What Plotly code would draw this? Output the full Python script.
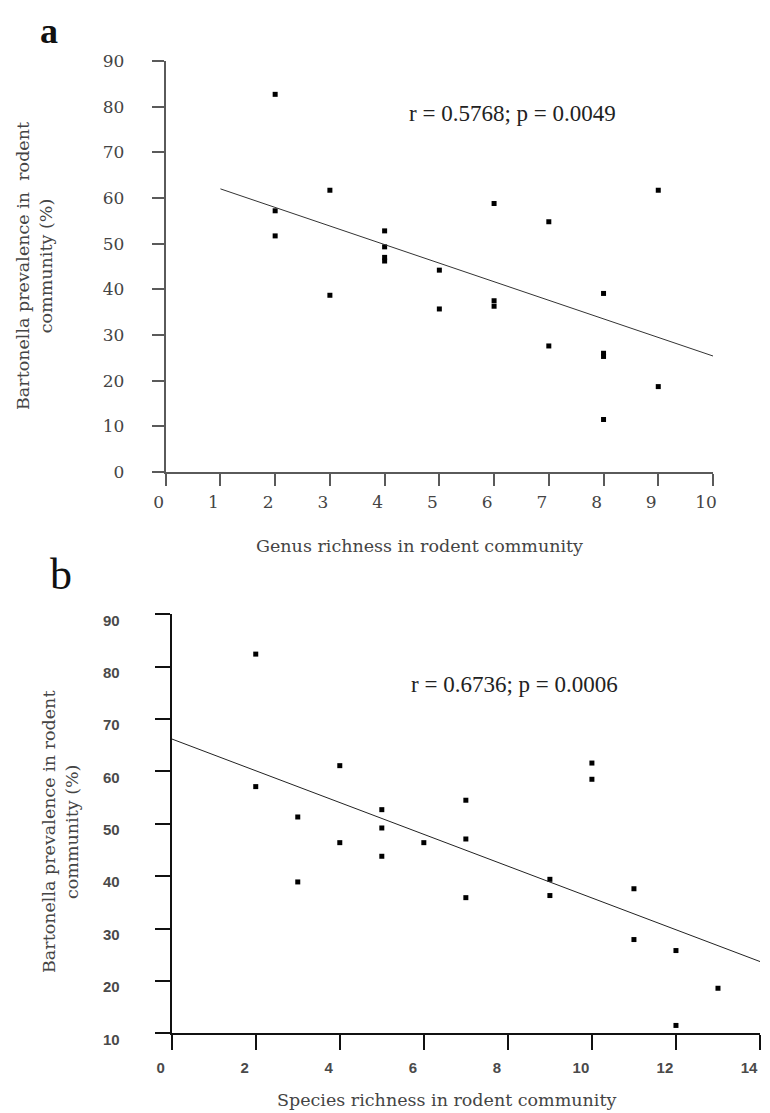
import plotly.graph_objects as go

# ---- Panel a data ----
a_x = [2, 2, 2, 3, 3, 4, 4, 4, 4, 5, 5, 6, 6, 6, 7, 7, 8, 8, 8, 8, 9, 9]
a_y = [82.7, 57.2, 51.7, 61.7, 38.7, 52.8, 49.3, 47.0, 46.2, 44.2, 35.7,
       58.8, 37.5, 36.3, 54.8, 27.6, 39.1, 26.0, 25.3, 11.5, 61.7, 18.7]
a_fit_x = [1, 10]
a_fit_y = [62.0, 25.4]
a_xticks = list(range(0, 11))
a_yticks = list(range(0, 91, 10))

# ---- Panel b data ----
b_x = [2, 2, 3, 3, 4, 4, 5, 5, 5, 6, 7, 7, 7, 9, 9, 10, 10, 11, 11, 12, 12, 13]
b_y = [82.4, 57.1, 51.3, 38.9, 61.1, 46.4, 52.7, 49.2, 43.8, 46.4, 54.5,
       47.1, 35.9, 39.4, 36.3, 61.6, 58.5, 37.6, 27.9, 25.8, 11.5, 18.6]
b_fit_x = [0, 14]
b_fit_y = [66.2, 23.7]
b_xticks = list(range(0, 15, 2))
b_yticks = list(range(10, 91, 10))

# page offset (body margin) compensation
OFF = 8
W, H = 770 - OFF, 1113 - OFF

def px(xp):
    return (xp - OFF) / W

def py(yp):
    return 1 - (yp - OFF) / H

fig = go.Figure()

mk = dict(symbol="square", size=5, color="black")
fig.add_trace(go.Scatter(x=a_x, y=a_y, mode="markers", marker=mk,
                         xaxis="x", yaxis="y", showlegend=False, cliponaxis=False))
fig.add_trace(go.Scatter(x=a_fit_x, y=a_fit_y, mode="lines",
                         line=dict(color="#333333", width=1),
                         xaxis="x", yaxis="y", showlegend=False))
fig.add_trace(go.Scatter(x=b_x, y=b_y, mode="markers", marker=mk,
                         xaxis="x2", yaxis="y2", showlegend=False, cliponaxis=False))
fig.add_trace(go.Scatter(x=b_fit_x, y=b_fit_y, mode="lines",
                         line=dict(color="#222222", width=1),
                         xaxis="x2", yaxis="y2", showlegend=False))

serif = "DejaVu Serif"
a_axis = dict(showline=True, linecolor="#5a5a5a", linewidth=2, ticks="outside",
              ticklen=12, tickwidth=2, tickcolor="#5a5a5a", showgrid=False,
              zeroline=False, automargin=False,
              tickfont=dict(family=serif, size=17, color="#444444"))
b_axis = dict(showline=True, linecolor="#111111", linewidth=2, ticks="outside",
              ticklen=15, tickwidth=2, tickcolor="#111111", showgrid=False,
              zeroline=False, automargin=False,
              tickfont=dict(family="Liberation Sans", size=15, color="#4a4a4a",
                            weight="bold"))

fig.update_layout(
    width=W, height=H,
    margin=dict(l=0, r=0, t=0, b=0),
    paper_bgcolor="white", plot_bgcolor="white",
    xaxis=dict(domain=[px(165.7), px(713)], range=[0, 10], tickvals=a_xticks,
               anchor="y", ticklabelshift=-7, ticklabelstandoff=2, **a_axis),
    yaxis=dict(domain=[py(472), py(61)], range=[0, 90], tickvals=a_yticks,
               anchor="x", ticklabelstandoff=24, **a_axis),
    xaxis2=dict(domain=[px(171.7), px(760)], range=[0, 14], tickvals=b_xticks,
                anchor="y2", ticklabelshift=-11, ticklabelstandoff=5, **b_axis),
    yaxis2=dict(domain=[py(1033.3), py(614.3)], range=[10, 90], tickvals=b_yticks,
                anchor="x2", ticklabelshift=6, ticklabelstandoff=32, **b_axis),
)

ann = []
ann.append(dict(text="<b>a</b>", x=px(49), y=py(31), xref="paper", yref="paper",
                showarrow=False, xanchor="center", yanchor="middle",
                font=dict(family="Liberation Serif", size=36, color="#111111")))
ann.append(dict(text="b", x=px(61), y=py(574), xref="paper", yref="paper",
                showarrow=False, xanchor="center", yanchor="middle",
                font=dict(family="Liberation Serif", size=44, color="#111111")))
ann.append(dict(text="r = 0.5768; p = 0.0049", x=px(512), y=py(114), xref="paper", yref="paper",
                showarrow=False, xanchor="center", yanchor="middle",
                font=dict(family="Liberation Serif", size=23, color="#222222")))
ann.append(dict(text="r = 0.6736; p = 0.0006", x=px(514), y=py(684), xref="paper", yref="paper",
                showarrow=False, xanchor="center", yanchor="middle",
                font=dict(family="Liberation Serif", size=23, color="#222222")))
ann.append(dict(text="Bartonella prevalence in  rodent<br>community (%)", x=px(34), y=py(266),
                xref="paper", yref="paper", showarrow=False, textangle=-90,
                xanchor="center", yanchor="middle",
                font=dict(family=serif, size=17.5, color="#444444")))
ann.append(dict(text="Bartonella prevalence in rodent<br>community (%)", x=px(60), y=py(832),
                xref="paper", yref="paper", showarrow=False, textangle=-90,
                xanchor="center", yanchor="middle",
                font=dict(family=serif, size=17.5, color="#444444")))
ann.append(dict(text="Genus richness in rodent community", x=px(419), y=py(546),
                xref="paper", yref="paper", showarrow=False,
                xanchor="center", yanchor="middle",
                font=dict(family=serif, size=17.5, color="#444444")))
ann.append(dict(text="Species richness in rodent community", x=px(446), y=py(1100),
                xref="paper", yref="paper", showarrow=False,
                xanchor="center", yanchor="middle",
                font=dict(family=serif, size=17.5, color="#444444")))
fig.update_layout(annotations=ann)

fig.write_html("out.html")
